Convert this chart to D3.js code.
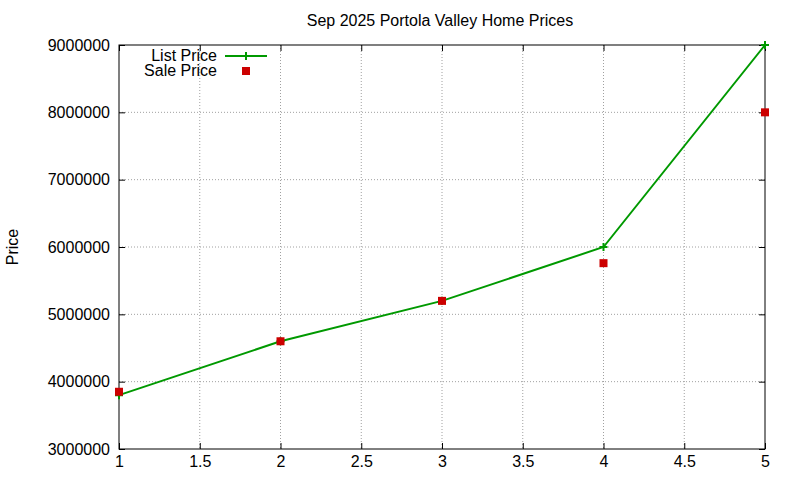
<!DOCTYPE html>
<html><head><meta charset="utf-8">
<script src="https://d3js.org/d3.v7.min.js"></script>
<style>body{margin:0;background:#fff}text{font-family:"Liberation Sans",Arial,sans-serif}</style>
</head><body><svg width="800" height="480"></svg>
<script>
const xValues=[1,2,3,4,5];
const listPrice=[3800000,4600000,5200000,6000000,9000000];
const salePrice=[3850000,4600000,5200000,5760000,8000000];
const xTicks=[1,1.5,2,2.5,3,3.5,4,4.5,5];
const yTicks=[3000000,4000000,5000000,6000000,7000000,8000000,9000000];
const title="Sep 2025 Portola Valley Home Prices";
const FS=16;
const svg=d3.select("svg");
const L=119,R=765,T=45,B=449;
const x=d3.scaleLinear().domain([1,5]).range([L,R]);
const y=d3.scaleLinear().domain([3000000,9000000]).range([B,T]);
const g=svg.append("g");
g.selectAll(".gx").data(xTicks.slice(1,-1)).join("line").attr("x1",d=>x(d)).attr("x2",d=>x(d)).attr("y1",T).attr("y2",B).attr("stroke","#a0a0a0").attr("stroke-dasharray","1,2");
g.selectAll(".gy").data(yTicks.slice(1,-1)).join("line").attr("y1",d=>y(d)).attr("y2",d=>y(d)).attr("x1",L).attr("x2",R).attr("stroke","#a0a0a0").attr("stroke-dasharray","1,2");
const xa=svg.append("g").attr("transform",`translate(0,${B})`).call(d3.axisBottom(x).tickValues(xTicks).tickFormat(d3.format("")).tickSizeInner(-6).tickSizeOuter(0).tickPadding(7));
const ya=svg.append("g").attr("transform",`translate(${L},0)`).call(d3.axisLeft(y).tickValues(yTicks).tickFormat(d3.format("d")).tickSizeInner(-6).tickSizeOuter(0).tickPadding(9));
[xa,ya].forEach(a=>{a.select(".domain").remove();a.selectAll("text").attr("font-size",FS).attr("fill","#000").style("font-family","Liberation Sans, Arial, sans-serif");});
svg.append("g").attr("transform",`translate(0,${T})`).call(d3.axisTop(x).tickValues(xTicks).tickSizeInner(-6).tickSizeOuter(0).tickFormat("")).select(".domain").remove();
svg.append("g").attr("transform",`translate(${R},0)`).call(d3.axisRight(y).tickValues(yTicks).tickSizeInner(-6).tickSizeOuter(0).tickFormat("")).select(".domain").remove();
svg.append("rect").attr("x",L).attr("y",T).attr("width",R-L).attr("height",B-T).attr("fill","none").attr("stroke","#000");
svg.append("text").attr("x",440).attr("y",26).attr("text-anchor","middle").attr("font-size",FS).text(title);
svg.append("text").attr("transform","translate(18,247) rotate(-90)").attr("text-anchor","middle").attr("font-size",FS).text("Price");
const line=d3.line().x((d,i)=>x(xValues[i])).y(d=>y(d));
svg.append("path").datum(listPrice).attr("d",line).attr("fill","none").attr("stroke","#009900").attr("stroke-width",2);
const plus=(sel,cx,cy)=>{sel.append("path").attr("d",`M${cx-4},${cy}H${cx+4}M${cx},${cy-4}V${cy+4}`).attr("stroke","#009900").attr("stroke-width",2);};
listPrice.forEach((d,i)=>plus(svg,x(xValues[i]),y(d)));
svg.selectAll(".sq").data(salePrice).join("rect").attr("x",(d,i)=>x(xValues[i])-4).attr("y",d=>y(d)-4).attr("width",8).attr("height",8).attr("fill","#cc0000");
svg.append("text").attr("x",217).attr("y",61).attr("text-anchor","end").attr("font-size",FS).text("List Price");
svg.append("line").attr("x1",225).attr("x2",267).attr("y1",56).attr("y2",56).attr("stroke","#009900").attr("stroke-width",2);
plus(svg,246,56);
svg.append("text").attr("x",217).attr("y",76).attr("text-anchor","end").attr("font-size",FS).text("Sale Price");
svg.append("rect").attr("x",242).attr("y",67).attr("width",8).attr("height",8).attr("fill","#cc0000");
</script></body></html>
